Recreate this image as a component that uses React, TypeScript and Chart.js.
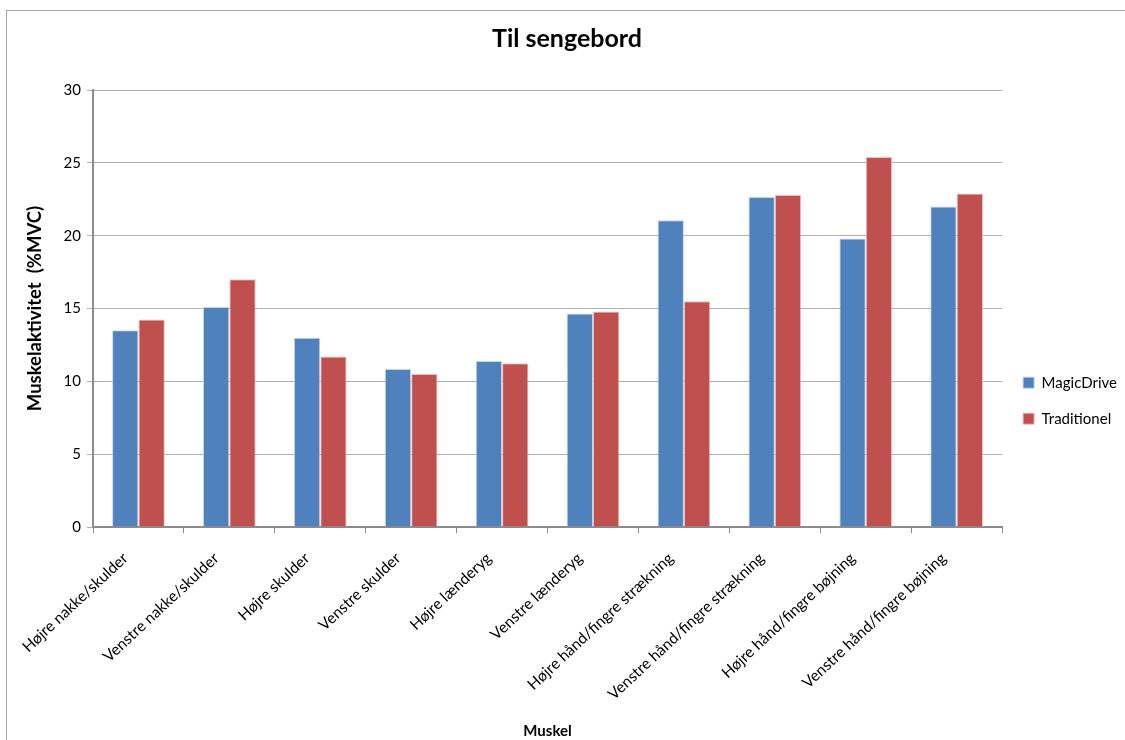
import React, { useEffect, useRef } from "react";
import { Chart, registerables } from "chart.js";

Chart.register(...registerables);

const categories = [
  "Højre nakke/skulder",
  "Venstre nakke/skulder",
  "Højre skulder",
  "Venstre skulder",
  "Højre lænderyg",
  "Venstre lænderyg",
  "Højre hånd/fingre strækning",
  "Venstre hånd/fingre strækning",
  "Højre hånd/fingre bøjning",
  "Venstre hånd/fingre bøjning",
];
const magicDrive = [13.5, 15.1, 13.0, 10.85, 11.4, 14.65, 21.05, 22.65, 19.8, 22.0];
const traditionel = [14.25, 17.0, 11.7, 10.5, 11.25, 14.8, 15.5, 22.8, 25.4, 22.9];
const seriesNames = ["MagicDrive", "Traditionel"];
const yTicks = [0, 5, 10, 15, 20, 25, 30];

const FONT = "Lato, 'Open Sans', sans-serif";

export default function App() {
  const ref = useRef<HTMLCanvasElement | null>(null);
  useEffect(() => {
    if (!ref.current) return;
    const chart = new Chart(ref.current, {
      type: "bar",
      data: {
        labels: categories,
        datasets: [
          {
            label: seriesNames[0],
            data: magicDrive,
            backgroundColor: "#4F81BD",
            borderColor: "rgba(190,208,232,0.9)",
            borderWidth: 1,
            categoryPercentage: 0.58,
            barPercentage: 1,
          },
          {
            label: seriesNames[1],
            data: traditionel,
            backgroundColor: "#C0504D",
            borderColor: "rgba(232,190,190,0.9)",
            borderWidth: 1,
            categoryPercentage: 0.58,
            barPercentage: 1,
          },
        ],
      },
      options: {
        animation: false,
        responsive: false,
        maintainAspectRatio: false,
        layout: { padding: 0 },
        plugins: {
          title: {
            display: true,
            text: "Til sengebord",
            color: "#000",
            font: { family: FONT, size: 25, weight: "bold" },
            padding: { top: 13, bottom: 36 },
          },
          legend: {
            position: "right",
            title: {
              display: true,
              text: " ",
              font: { family: FONT, size: 12 },
              padding: { top: 36, bottom: 0 },
            },
            labels: {
              color: "#000",
              font: { family: FONT, size: 15 },
              boxWidth: 11,
              boxHeight: 11,
              padding: 21,
            },
          },
          tooltip: { enabled: false },
        },
        scales: {
          x: {
            offset: true,
            grid: {
              offset: true,
              drawOnChartArea: false,
              drawTicks: true,
              tickLength: 6,
              color: "#8c8c8c",
            },
            border: { color: "#8c8c8c", width: 2 },
            ticks: {
              color: "#000",
              font: { family: FONT, size: 15.5 },
              minRotation: 43,
              maxRotation: 43,
              autoSkip: false,
              padding: 16,
              labelOffset: -13,
            },
            title: {
              display: true,
              text: "Muskel",
              color: "#000",
              font: { family: FONT, size: 15, weight: "bold" },
              padding: 0,
            },
            afterFit: (scale: any) => {
              scale.height = 213;
            },
          },
          y: {
            min: 0,
            max: 30,
            afterBuildTicks: (scale: any) => {
              scale.ticks = yTicks.map((v) => ({ value: v }));
            },
            grid: {
              color: "#b0b0b0",
              tickLength: 6,
            },
            border: { color: "#8c8c8c", width: 2 },
            ticks: {
              color: "#000",
              font: { family: FONT, size: 15 },
              padding: 6,
            },
            title: {
              display: true,
              text: "Muskelaktivitet  (%MVC)",
              color: "#000",
              font: { family: FONT, size: 18.5, weight: "bold" },
              padding: { top: 17, bottom: 0 },
            },
            afterFit: (scale: any) => {
              scale.width = 86;
            },
          },
        },
      },
    });
    return () => chart.destroy();
  }, []);

  return (
    <div
      style={{
        position: "fixed",
        left: 0,
        top: 0,
        width: 1125,
        height: 740,
        overflow: "hidden",
        background: "#fff",
      }}
    >
      <div
        style={{
          position: "absolute",
          left: 6,
          top: 10,
          width: 1,
          height: 730,
          background: "#a6a6a6",
        }}
      />
      <div
        style={{
          position: "absolute",
          left: 6,
          top: 10,
          width: 1119,
          height: 1,
          background: "#a6a6a6",
        }}
      />
      <canvas
        ref={ref}
        width={1120}
        height={729}
        style={{ display: "block", position: "absolute", left: 7, top: 11 }}
      />
    </div>
  );
}
